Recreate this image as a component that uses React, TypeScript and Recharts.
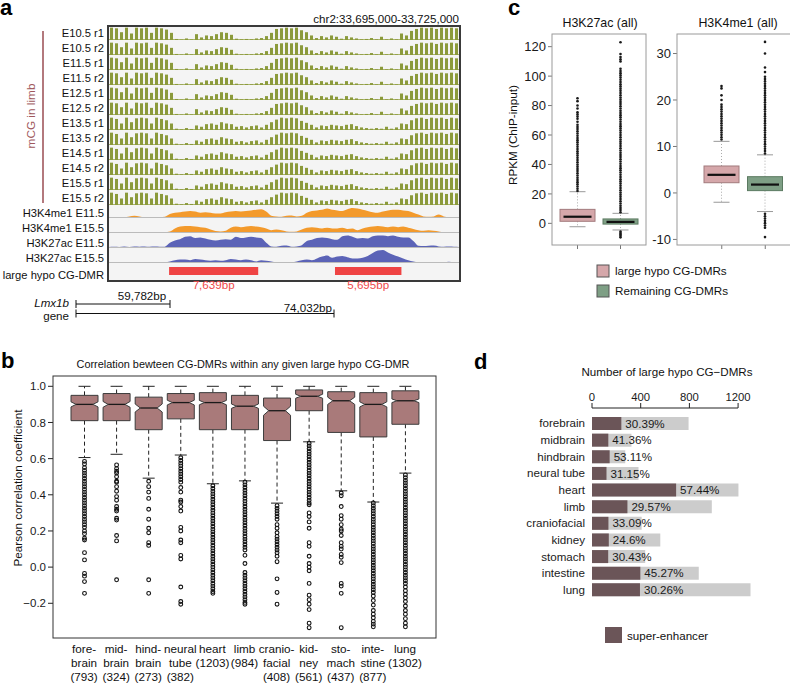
import React from 'react';
import { BarChart, Bar, AreaChart, Area, XAxis, YAxis, LabelList } from 'recharts';

const FONT = '"Liberation Sans", Arial, Helvetica, sans-serif';

// ---------- panel a: genome browser tracks ----------
const mcgTracks = ['E10.5 r1', 'E10.5 r2', 'E11.5 r1', 'E11.5 r2', 'E12.5 r1', 'E12.5 r2',
  'E13.5 r1', 'E13.5 r2', 'E14.5 r1', 'E14.5 r2', 'E15.5 r1', 'E15.5 r2'];
// methylation level per ~430bp bin
const mcgEarly = [0.95, 0.9, 0.6, 0.95, 0.5, 0.95, 0.9, 0.95, 0.55, 0.95, 0.9, 0.8,
  0.55, 0.08, 0.03, 0.12, 0.04,
  0.45, 0.2, 0.35, 0.3, 0.45,
  0.6, 0.55, 0.4,
  0.1, 0.05, 0.08, 0.05, 0.12, 0.15,
  0.3, 0.55,
  0.85, 0.9, 0.95, 0.9, 0.95,
  0.75, 0.6, 0.35,
  0.15, 0.3, 0.2, 0.35,
  0.25, 0.1, 0.3, 0.2, 0.12, 0.05, 0.08, 0.15, 0.05, 0.25, 0.05, 0.12, 0.05,
  0.5, 0.35,
  0.7, 0.85, 0.95, 0.9, 0.95, 0.85, 0.95, 0.9, 0.95, 0.9];
const mcgLate = [0.95, 0.85, 0.5, 0.95, 0.6, 0.9, 0.95, 0.9, 0.5, 0.95, 0.85, 0.75,
  0.5, 0.1, 0.05, 0.15, 0.08,
  0.35, 0.25, 0.45, 0.5, 0.4,
  0.6, 0.5, 0.45,
  0.25, 0.3, 0.2, 0.3, 0.35, 0.2,
  0.4, 0.6,
  0.8, 0.95, 0.9, 0.95, 0.9,
  0.7, 0.55, 0.4,
  0.2, 0.35, 0.3, 0.4,
  0.35, 0.3, 0.4, 0.45, 0.3, 0.2, 0.15, 0.1, 0.15, 0.1, 0.25, 0.1, 0.2,
  0.5, 0.45,
  0.75, 0.9, 0.95, 0.85, 0.95, 0.9, 0.95, 0.85, 0.95, 0.9];

const chipTracks = ['H3K4me1 E11.5', 'H3K4me1 E15.5', 'H3K27ac E11.5', 'H3K27ac E15.5'];
const k4me1E11 = [0, 0, 0, 0, 0.05, 0.1, 0.05, 0, 0, 0, 0, 0.02,
  0.25, 0.35, 0.4, 0.45, 0.5, 0.45, 0.35, 0.4, 0.35, 0.3, 0.3, 0.4, 0.45, 0.5, 0.45, 0.5, 0.55, 0.6, 0.65, 0.45,
  0.1, 0.05, 0.02, 0.1, 0.12, 0.05, 0.1,
  0.35, 0.5, 0.55, 0.6, 0.7, 0.6, 0.55, 0.5, 0.65, 0.75, 0.7, 0.6, 0.5, 0.4, 0.35, 0.45, 0.55, 0.6, 0.6, 0.55, 0.5, 0.35, 0.2,
  0.05, 0.02, 0.05, 0.2, 0.05, 0, 0, 0];
const k4me1E15 = [0, 0, 0, 0, 0, 0, 0, 0, 0, 0, 0, 0, 0.05,
  0.3, 0.45, 0.5, 0.5, 0.45, 0.4, 0.35, 0.2,
  0.08, 0.05, 0.1,
  0.35, 0.45, 0.4, 0.45, 0.5, 0.45, 0.4, 0.3,
  0.15, 0.2, 0.15, 0.05, 0.02, 0.05, 0.2,
  0.35, 0.4, 0.35, 0.3, 0.35, 0.3, 0.3, 0.35, 0.25, 0.3, 0.15,
  0.3, 0.4, 0.45, 0.5, 0.45, 0.4, 0.45, 0.4, 0.45, 0.35, 0.25, 0.15,
  0.1, 0.15, 0.1, 0.05, 0, 0, 0, 0];
const k27acE11 = [0, 0.02, 0, 0.05, 0, 0.04, 0.03, 0.05, 0.02, 0.04, 0.02, 0.03,
  0.35, 0.55, 0.65, 0.85, 0.9, 0.75, 0.8, 0.7, 0.6, 0.55, 0.6, 0.65, 0.6, 0.85, 0.75, 0.8, 0.85, 0.8, 0.75, 0.35,
  0.05, 0.02, 0.1, 0.12, 0.02, 0.05, 0.15,
  0.5, 0.6, 0.75, 0.8, 0.75, 0.65, 0.6, 0.9, 0.95, 0.85, 0.7, 0.75, 0.7, 0.9, 0.95, 0.95, 0.9, 0.95, 0.85, 0.8, 0.8, 0.5, 0.1,
  0.08, 0.1, 0.12, 0.05, 0.03, 0.04, 0.02, 0];
const k27acE15 = [0, 0, 0, 0, 0, 0, 0, 0, 0, 0, 0, 0, 0.05,
  0.15, 0.2, 0.2, 0.15, 0.25, 0.2, 0.15, 0.1, 0.15, 0.1, 0.15, 0.25, 0.2, 0.15, 0.2, 0.15, 0.05,
  0.15, 0.1, 0.05, 0, 0, 0, 0, 0.05,
  0.15, 0.2, 0.15, 0.3, 0.45, 0.55, 0.35, 0.45, 0.5, 0.4, 0.3, 0.3, 0.35, 0.5, 0.75, 0.95, 1.0, 0.8, 0.6, 0.45, 0.3,
  0.15, 0.05, 0, 0, 0, 0, 0, 0, 0.03, 0, 0];
const chipValues = [k4me1E11, k4me1E15, k27acE11, k27acE15];
const chipColors = ['#f39a2c', '#f39a2c', '#5b63b7', '#5b63b7'];

const windowStart = 33695000;
const windowEnd = 33725000;
const dmrStarts = [33700150, 33714370];
const dmrEnds = [33707789, 33720065];
const dmrLabels = ['7,639bp', '5,695bp'];

// ---------- panel b: correlation boxplots ----------
const bCats = ['forebrain', 'midbrain', 'hindbrain', 'neural tube', 'heart', 'limb',
  'craniofacial', 'kidney', 'stomach', 'intestine', 'lung'];
const bTickLines = [['fore-', 'brain', '(793)'], ['mid-', 'brain', '(324)'], ['hind-', 'brain', '(273)'],
  ['neural', 'tube', '(382)'], ['heart', '(1203)'], ['limb', '(984)'], ['cranio-', 'facial', '(408)'],
  ['kid-', 'ney', '(561)'], ['sto-', 'mach', '(437)'], ['inte-', 'stine', '(877)'], ['lung', '(1302)']];
const bQ1 = [0.81, 0.81, 0.76, 0.82, 0.76, 0.76, 0.70, 0.865, 0.745, 0.72, 0.79];
const bMed = [0.90, 0.90, 0.88, 0.91, 0.91, 0.89, 0.865, 0.945, 0.92, 0.90, 0.92];
const bQ3 = [0.95, 0.96, 0.94, 0.96, 0.965, 0.95, 0.935, 0.98, 0.97, 0.965, 0.975];
const bNotch = [0.014, 0.016, 0.022, 0.013, 0.012, 0.012, 0.025, 0.011, 0.02, 0.014, 0.01];
const bWlo = [0.606, 0.624, 0.492, 0.62, 0.461, 0.477, 0.354, 0.693, 0.422, 0.36, 0.52];
const bWhi = [1.0, 1.0, 1.0, 1.0, 1.0, 1.0, 1.0, 1.0, 1.0, 1.0, 1.0];
const bOut = [
  [0.585, 0.57, 0.55, 0.535, 0.52, 0.505, 0.49, 0.475, 0.46, 0.445, 0.43, 0.415, 0.4, 0.385, 0.37, 0.355, 0.34,
    0.325, 0.31, 0.295, 0.28, 0.265, 0.25, 0.235, 0.22, 0.2, 0.185, 0.16, 0.15, 0.08, 0.04, -0.035, -0.05, -0.08, -0.145],
  [0.565, 0.545, 0.53, 0.52, 0.5, 0.475, 0.47, 0.445, 0.42, 0.39, 0.37, 0.335, 0.32, 0.31, 0.27, 0.26, 0.175, 0.145, -0.07],
  [0.475, 0.445, 0.415, 0.38, 0.32, 0.265, 0.215, 0.19, 0.135, 0.12, -0.07, -0.145],
  [0.605, 0.59, 0.575, 0.56, 0.545, 0.53, 0.515, 0.5, 0.485, 0.47, 0.44, 0.415, 0.37, 0.36, 0.335, 0.31, 0.22, 0.2,
    0.15, 0.135, 0.065, 0.045, -0.11, -0.19, -0.205],
  [0.45, 0.435, 0.42, 0.405, 0.39, 0.375, 0.36, 0.345, 0.33, 0.315, 0.3, 0.285, 0.27, 0.255, 0.24, 0.225, 0.21,
    0.195, 0.18, 0.165, 0.15, 0.135, 0.12, 0.105, 0.09, 0.075, 0.06, 0.045, 0.03, 0.015, 0, -0.015, -0.03, -0.045,
    -0.06, -0.075, -0.09, -0.105, -0.12, -0.135, -0.145],
  [0.47, 0.455, 0.44, 0.425, 0.41, 0.395, 0.38, 0.365, 0.35, 0.335, 0.32, 0.305, 0.29, 0.275, 0.26, 0.245, 0.23,
    0.215, 0.2, 0.185, 0.17, 0.155, 0.14, 0.125, 0.11, 0.095, 0.065, 0.02, -0.03, -0.045, -0.06, -0.075, -0.09,
    -0.105, -0.12, -0.135, -0.15, -0.165, -0.18, -0.195, -0.205],
  [0.34, 0.325, 0.31, 0.295, 0.28, 0.265, 0.235, 0.215, 0.19, 0.17, 0.155, 0.14, 0.125, 0.11, 0.095, 0.08, 0.06,
    0.03, -0.065, -0.14, -0.205],
  [0.685, 0.67, 0.655, 0.64, 0.625, 0.61, 0.595, 0.58, 0.565, 0.55, 0.535, 0.52, 0.505, 0.49, 0.475, 0.46, 0.445,
    0.43, 0.415, 0.4, 0.385, 0.37, 0.355, 0.345, 0.3, 0.28, 0.25, 0.215, 0.135, 0.115, 0.06, 0.02, 0.0, -0.02,
    -0.09, -0.155, -0.18, -0.205, -0.235, -0.31, -0.335],
  [0.41, 0.395, 0.335, 0.285, 0.265, 0.235, 0.21, 0.2, 0.175, 0.135, 0.115, 0.1, 0.07, 0.055, 0.025, -0.09, -0.105,
    -0.145, -0.335],
  [0.355, 0.34, 0.325, 0.31, 0.295, 0.28, 0.265, 0.25, 0.235, 0.22, 0.205, 0.19, 0.175, 0.16, 0.145, 0.13, 0.115,
    0.1, 0.085, 0.07, 0.055, 0.04, 0.025, 0.01, -0.005, -0.02, -0.035, -0.05, -0.065, -0.08, -0.095, -0.11, -0.125,
    -0.14, -0.16, -0.185, -0.21, -0.24, -0.26, -0.28, -0.3, -0.315, -0.33],
  [0.51, 0.495, 0.48, 0.465, 0.45, 0.435, 0.42, 0.405, 0.39, 0.375, 0.36, 0.345, 0.33, 0.315, 0.3, 0.285, 0.27,
    0.255, 0.24, 0.225, 0.21, 0.195, 0.18, 0.165, 0.15, 0.135, 0.12, 0.105, 0.09, 0.075, 0.06, 0.045, 0.03, 0.015,
    0, -0.015, -0.03, -0.045, -0.06, -0.075, -0.09, -0.11, -0.13, -0.15, -0.17, -0.19, -0.215, -0.24, -0.26, -0.285,
    -0.31, -0.33],
];
const bTicks = [-0.2, 0, 0.2, 0.4, 0.6, 0.8, 1.0];

// ---------- panel c: RPKM boxplots ----------
const cGroups = ['large hypo CG-DMRs', 'Remaining CG-DMRs'];
const cFill = ['#d5a7aa', '#7e9f85'];
const cStroke = ['#a27a7d', '#5b7a61'];
const k27Q1 = [1.4, -0.5];
const k27Med = [4.5, 1.0];
const k27Q3 = [9.5, 3.0];
const k27Wlo = [-2.3, -4.5];
const k27Whi = [21.5, 6.8];
const k27Out = [
  [22, 23.5, 25, 26.5, 28, 29.5, 31, 32.5, 34, 35.5, 37, 38.5, 40, 41.5, 43, 44.5, 46, 47.5, 49, 50.5, 52, 53.5,
    55, 56.5, 58, 59.5, 61, 62.5, 64, 65.5, 67, 69, 71, 72.5, 74, 75.5, 78, 80, 83, 85],
  [7.5, 9, 10.5, 12, 13.5, 15, 16.5, 18, 19.5, 21, 22.5, 24, 25.5, 27, 28.5, 30, 31.5, 33, 34.5, 36, 37.5, 39, 40.5,
    42, 43.5, 45, 46.5, 48, 49.5, 51, 52.5, 54, 55.5, 57, 58.5, 60, 61.5, 63, 64.5, 66, 67.5, 69, 70.5, 72, 73.5, 75,
    76.5, 78, 79.5, 81, 82.5, 84, 85.5, 87, 88.5, 90, 91.5, 93, 94.5, 96, 97.5, 99, 100.5, 102, 103.5, 105, 110,
    111.5, 113, 115, 123, -5.5, -6.5, -7.5, -8.5, -9.5],
];
const k4Q1 = [2.2, 0.5];
const k4Med = [3.9, 1.8];
const k4Q3 = [5.8, 3.5];
const k4Wlo = [-2.0, -4.0];
const k4Whi = [11.1, 8.2];
const k4Out = [
  [11.5, 12, 12.5, 13, 13.5, 14, 14.5, 15, 15.5, 16, 16.5, 17, 17.5, 18, 18.5, 19, 20, 21, 22.5, 23],
  [8.5, 9, 9.5, 10, 10.5, 11, 11.5, 12, 12.5, 13, 13.5, 14, 14.5, 15, 15.5, 16, 16.5, 17, 17.5, 18, 18.5, 19, 19.5,
    20, 20.5, 21, 21.5, 22, 22.5, 23, 23.5, 24, 24.5, 25, 26, 27, 30, 32.5,
    -4.5, -5, -5.5, -6, -6.5, -7, -7.5, -9.5],
];
const k27Ticks = [0, 20, 40, 60, 80, 100, 120];
const k4Ticks = [-10, 0, 10, 20, 30];

// ---------- panel d: counts and super-enhancer share ----------
const dCats = ['forebrain', 'midbrain', 'hindbrain', 'neural tube', 'heart', 'limb',
  'craniofacial', 'kidney', 'stomach', 'intestine', 'lung'];
const dTotals = [793, 324, 273, 382, 1203, 984, 408, 561, 437, 877, 1302];
const dPctLabels = ['30.39%', '41.36%', '53.11%', '31.15%', '57.44%', '29.57%', '33.09%', '24.6%', '30.43%', '45.27%', '30.26%'];
const dTicks = [0, 400, 800, 1200];

const spanOf = (lo: number[], hi: number[], out: number[][], i: number) => [
  Math.min(lo[i], ...out[i]),
  Math.max(hi[i], ...out[i]),
];

const bData = bCats.map((name, i) => {
  const [lo, hi] = spanOf(bWlo, bWhi, bOut, i);
  return { name, q1: bQ1[i], med: bMed[i], q3: bQ3[i], notch: bNotch[i], wlo: bWlo[i], whi: bWhi[i], out: bOut[i], lo, hi };
});
const makeCData = (q1: number[], med: number[], q3: number[], wlo: number[], whi: number[], out: number[][]) =>
  cGroups.map((name, i) => {
    const [lo, hi] = spanOf(wlo, whi, out, i);
    return { name, q1: q1[i], med: med[i], q3: q3[i], wlo: wlo[i], whi: whi[i], out: out[i], lo, hi };
  });
const k27Data = makeCData(k27Q1, k27Med, k27Q3, k27Wlo, k27Whi, k27Out);
const k4Data = makeCData(k4Q1, k4Med, k4Q3, k4Wlo, k4Whi, k4Out);
const dData = dCats.map((name, i) => ({
  name,
  total: dTotals[i],
  se: (dTotals[i] * parseFloat(dPctLabels[i])) / 100,
  pct: dPctLabels[i],
}));
const dmrData = [{ row: 'dmr', a: [dmrStarts[0], dmrEnds[0]], b: [dmrStarts[1], dmrEnds[1]], la: dmrLabels[0], lb: dmrLabels[1] }];

// maps a value to pixels inside the [lo, hi] range bar that recharts laid out
const pixelMapper = (props: any) => {
  const d = props.payload ?? props;
  const top = Math.min(props.y, props.y + props.height);
  const bot = Math.max(props.y, props.y + props.height);
  return { d, py: (v: number) => top + ((d.hi - v) / (d.hi - d.lo)) * (bot - top) };
};

const NotchBox = (props: any) => {
  const { d, py } = pixelMapper(props);
  const cx = props.x + props.width / 2;
  const hw = props.width / 2;
  const nw = hw * 0.62;
  const pts = [
    [cx - hw, py(d.q3)], [cx + hw, py(d.q3)], [cx + hw, py(d.med + d.notch)], [cx + nw, py(d.med)],
    [cx + hw, py(d.med - d.notch)], [cx + hw, py(d.q1)], [cx - hw, py(d.q1)], [cx - hw, py(d.med - d.notch)],
    [cx - nw, py(d.med)], [cx - hw, py(d.med + d.notch)],
  ].map((p) => p.join(',')).join(' ');
  return (
    <g>
      <line x1={cx} x2={cx} y1={py(d.q3)} y2={py(d.whi)} stroke="#222" strokeDasharray="4 3" />
      <line x1={cx} x2={cx} y1={py(d.q1)} y2={py(d.wlo)} stroke="#222" strokeDasharray="4 3" />
      <line x1={cx - 6} x2={cx + 6} y1={py(d.whi)} y2={py(d.whi)} stroke="#222" />
      <line x1={cx - 6} x2={cx + 6} y1={py(d.wlo)} y2={py(d.wlo)} stroke="#222" />
      <polygon points={pts} fill="#a97a7a" stroke="#3c3c3c" strokeWidth={1} />
      <line x1={cx - nw} x2={cx + nw} y1={py(d.med)} y2={py(d.med)} stroke="#1a1a1a" strokeWidth={1.3} />
      {d.out.map((v: number, k: number) => (
        <circle key={k} cx={cx} cy={py(v)} r={1.9} fill="none" stroke="#111" strokeWidth={1.1} />
      ))}
    </g>
  );
};

const PlainBox = (props: any) => {
  const { d, py } = pixelMapper(props);
  const i = props.index ?? 0;
  const cx = props.x + props.width / 2;
  const hw = props.width / 2;
  return (
    <g>
      <line x1={cx} x2={cx} y1={py(d.q3)} y2={py(d.whi)} stroke="#aaa" strokeDasharray="1 2" />
      <line x1={cx} x2={cx} y1={py(d.q1)} y2={py(d.wlo)} stroke="#aaa" strokeDasharray="1 2" />
      <line x1={cx - 8} x2={cx + 8} y1={py(d.whi)} y2={py(d.whi)} stroke="#999" />
      <line x1={cx - 8} x2={cx + 8} y1={py(d.wlo)} y2={py(d.wlo)} stroke="#999" />
      <rect x={cx - hw} y={py(d.q3)} width={hw * 2} height={py(d.q1) - py(d.q3)}
        fill={cFill[i]} stroke={cStroke[i]} strokeWidth={1} />
      <line x1={cx - hw * 0.8} x2={cx + hw * 0.8} y1={py(d.med)} y2={py(d.med)} stroke="#111" strokeWidth={2.2} />
      {d.out.map((v: number, k: number) => (
        <circle key={k} cx={cx} cy={py(v)} r={1.3} fill="#1a1a1a" />
      ))}
    </g>
  );
};

const BTick = (props: any) => {
  const { x, y, payload } = props;
  const lines = bTickLines[payload.index] ?? [];
  return (
    <g>
      {lines.map((s, k) => (
        <text key={k} x={x} y={y + 15 + k * 14} textAnchor="middle" fontSize={11.7} fill="#111" fontFamily={FONT}>{s}</text>
      ))}
    </g>
  );
};

const fmtB = (v: number) => (v < 0 ? '\u2212' + Math.abs(v).toFixed(1) : v.toFixed(1));
const axisText = { fontSize: 11.6, fill: '#1a1a1a', fontFamily: FONT };
const noMargin = { top: 0, right: 0, bottom: 0, left: 0 };

const McgTrack = ({ values, top }: { values: number[]; top: number }) => (
  <div style={{ position: 'absolute', left: 109, top, width: 350, height: 13 }}>
    <BarChart width={350} height={13} data={values.map((v, i) => ({ bin: i, v }))} margin={noMargin} barCategoryGap={1}>
      <XAxis dataKey="bin" hide />
      <YAxis hide domain={[0, 1]} />
      <Bar dataKey="v" fill="#8b9a3b" isAnimationActive={false} />
    </BarChart>
  </div>
);

const ChipTrack = ({ values, top, color }: { values: number[]; top: number; color: string }) => (
  <div style={{ position: 'absolute', left: 109, top, width: 350, height: 12 }}>
    <AreaChart width={350} height={12} data={values.map((v, i) => ({ bin: i, v }))} margin={noMargin}>
      <XAxis dataKey="bin" hide />
      <YAxis hide domain={[0, 1]} />
      <Area type="monotone" dataKey="v" stroke="none" fill={color} fillOpacity={1} isAnimationActive={false} />
    </AreaChart>
  </div>
);

export default function App() {
  return (
    <div style={{ position: 'absolute', left: 0, top: 0, width: 790, height: 683, overflow: 'hidden', background: '#fff', fontFamily: FONT }}>
      {/* panel a frame and track rows */}
      <div style={{ position: 'absolute', left: 107, top: 25, width: 350, height: 253, border: '2px solid #3a3a3a', background: '#f4f4f4' }} />
      {mcgTracks.map((t, i) => (
        <div key={t} style={{ position: 'absolute', left: 109, top: 39 + 15 * i, width: 350, height: 1, background: '#a9b46a' }} />
      ))}
      {chipTracks.map((t, j) => (
        <div key={t} style={{ position: 'absolute', left: 109, top: 217 + 15 * j, width: 350, height: 1, background: '#bbbbbb' }} />
      ))}
      {mcgTracks.map((t, i) => (
        <McgTrack key={t} values={i < 6 ? mcgEarly : mcgLate} top={27 + 15 * i} />
      ))}
      {chipTracks.map((t, j) => (
        <ChipTrack key={t} values={chipValues[j]} top={205 + 15 * j} color={chipColors[j]} />
      ))}
      <div style={{ position: 'absolute', left: 109, top: 264, width: 350, height: 32 }}>
        <BarChart layout="vertical" width={350} height={32} data={dmrData} margin={{ top: 0, right: 0, bottom: 18, left: 0 }} barGap={-8}>
          <XAxis type="number" hide domain={[windowStart, windowEnd]} />
          <YAxis type="category" dataKey="row" hide />
          <Bar dataKey="a" barSize={8} fill="#ef4444" isAnimationActive={false}>
            <LabelList dataKey="la" position="bottom" offset={6} fill="#ef4a4a" fontSize={11.6} fontFamily={FONT} />
          </Bar>
          <Bar dataKey="b" barSize={8} fill="#ef4444" isAnimationActive={false}>
            <LabelList dataKey="lb" position="bottom" offset={6} fill="#ef4a4a" fontSize={11.6} fontFamily={FONT} />
          </Bar>
        </BarChart>
      </div>

      {/* panel b */}
      <div style={{ position: 'absolute', left: 0, top: 360 }}>
        <BarChart width={440} height={328} data={bData} margin={{ top: 16, right: 4, bottom: 0, left: 0 }}>
          <XAxis dataKey="name" height={50} tick={<BTick />} tickLine={false} axisLine={false} tickSize={0} tickMargin={0}
            padding={{ left: 15, right: 15 }} interval={0} />
          <YAxis width={53} domain={[-0.392, 1.057]} ticks={bTicks} tickFormatter={fmtB} tick={{ ...axisText, fontSize: 11.5 }}
            tickSize={5} tickMargin={2} axisLine={false} tickLine={{ stroke: '#222' }} allowDataOverflow />
          <Bar dataKey={(d: any) => [d.lo, d.hi]} barSize={27} shape={<NotchBox />} isAnimationActive={false} />
        </BarChart>
      </div>

      {/* panel c */}
      <div style={{ position: 'absolute', left: 508, top: 30 }}>
        <BarChart width={138} height={225} data={k27Data} margin={{ top: 4, right: 0, bottom: 0, left: 0 }}>
          <XAxis dataKey="name" height={10} tickSize={4} tickFormatter={() => ''} axisLine={false}
            tickLine={{ stroke: '#777' }} padding={{ left: 4, right: 4 }} />
          <YAxis width={44} domain={[-14.7, 128.6]} ticks={k27Ticks} tick={{ ...axisText, fontSize: 13 }}
            tickSize={4} tickMargin={2} axisLine={false} tickLine={{ stroke: '#777' }} allowDataOverflow />
          <Bar dataKey={(d: any) => [d.lo, d.hi]} barSize={35} shape={<PlainBox />} isAnimationActive={false} />
        </BarChart>
      </div>
      <div style={{ position: 'absolute', left: 640, top: 30 }}>
        <BarChart width={170} height={225} data={k4Data} margin={{ top: 4, right: 0, bottom: 0, left: 0 }}>
          <XAxis dataKey="name" height={10} tickSize={4} tickFormatter={() => ''} axisLine={false}
            tickLine={{ stroke: '#777' }} padding={{ left: 23, right: 23 }} />
          <YAxis width={37} domain={[-11.2, 34.2]} ticks={k4Ticks} tick={{ ...axisText, fontSize: 13 }}
            tickSize={4} tickMargin={2} axisLine={false} tickLine={{ stroke: '#777' }} allowDataOverflow />
          <Bar dataKey={(d: any) => [d.lo, d.hi]} barSize={35} shape={<PlainBox />} isAnimationActive={false} />
        </BarChart>
      </div>

      {/* panel d */}
      <div style={{ position: 'absolute', left: 500, top: 382 }}>
        <BarChart layout="vertical" width={270} height={216} data={dData} margin={{ top: 0, right: 10, bottom: 0, left: 0 }} barGap={-13}>
          <XAxis type="number" orientation="top" domain={[0, 1380]} ticks={dTicks} height={26} tick={{ ...axisText, fontSize: 11.3 }}
            tickSize={5} tickMargin={2} axisLine={false} tickLine={{ stroke: '#222' }} />
          <YAxis type="category" dataKey="name" width={92} tick={axisText} tickLine={false} axisLine={false}
            tickSize={0} tickMargin={7} padding={{ top: 7, bottom: 0 }} interval={0} />
          <Bar dataKey="total" barSize={13} fill="#cccccc" isAnimationActive={false} />
          <Bar dataKey="se" barSize={13} fill="#6b5558" isAnimationActive={false}>
            <LabelList dataKey="pct" position="right" offset={4} fill="#1a1a1a" fontSize={11.6} fontFamily={FONT} />
          </Bar>
        </BarChart>
      </div>

      {/* frames, annotations and text */}
      <svg width={790} height={683} style={{ position: 'absolute', left: 0, top: 0, pointerEvents: 'none' }} fontFamily={FONT}>
        <text x={0} y={15} fontSize={22} fontWeight="bold" fill="#000">a</text>
        <text x={459} y={23} fontSize={11.6} textAnchor="end" fill="#111">chr2:33,695,000-33,725,000</text>
        {mcgTracks.map((t, i) => (
          <text key={t} x={104} y={37 + 15 * i} fontSize={11.2} textAnchor="end" fill="#111">{t}</text>
        ))}
        {chipTracks.map((t, j) => (
          <text key={t} x={104} y={217 + 15 * j} fontSize={11.2} textAnchor="end" fill="#111">{t}</text>
        ))}
        <text x={104} y={279} fontSize={11.2} textAnchor="end" fill="#111">large hypo CG-DMR</text>
        <line x1={43} x2={43} y1={31} y2={203} stroke="#9a4c52" strokeWidth={1.5} />
        <text transform="translate(35,116) rotate(-90)" fontSize={11.8} textAnchor="middle" fill="#a0585c">mCG in limb</text>
        <text x={69} y={307} fontSize={11.6} textAnchor="end" fontStyle="italic" fill="#111">Lmx1b</text>
        <text x={69} y={320} fontSize={11.6} textAnchor="end" fill="#111">gene</text>
        <line x1={76} x2={170} y1={304} y2={304} stroke="#111" />
        <line x1={76} x2={76} y1={300} y2={308} stroke="#111" />
        <line x1={170} x2={170} y1={300} y2={308} stroke="#111" />
        <text x={142} y={300} fontSize={11.6} textAnchor="middle" fill="#111">59,782bp</text>
        <line x1={76} x2={334} y1={313.5} y2={313.5} stroke="#111" />
        <line x1={76} x2={76} y1={309.5} y2={317.5} stroke="#111" />
        <line x1={334} x2={334} y1={309.5} y2={317.5} stroke="#111" />
        <text x={332} y={312} fontSize={11.6} textAnchor="end" fill="#111">74,032bp</text>

        <text x={1} y={368} fontSize={22} fontWeight="bold" fill="#000">b</text>
        <text x={243} y={368} fontSize={10.9} textAnchor="middle" fill="#111">Correlation bewteen CG-DMRs within any given large hypo CG-DMR</text>
        <rect x={53} y={376} width={383} height={262} fill="none" stroke="#333" strokeWidth={1} />
        <text transform="translate(22,488) rotate(-90)" fontSize={11.7} textAnchor="middle" fill="#111">Pearson correlation coefficient</text>

        <text x={508} y={15} fontSize={22} fontWeight="bold" fill="#000">c</text>
        <text x={600} y={27} fontSize={12.4} textAnchor="middle" fill="#111">H3K27ac (all)</text>
        <text x={738} y={27} fontSize={12.4} textAnchor="middle" fill="#111">H3K4me1 (all)</text>
        <rect x={552} y={34} width={94} height={211} fill="none" stroke="#9a9a9a" strokeWidth={1} />
        <rect x={677} y={34} width={133} height={211} fill="none" stroke="#9a9a9a" strokeWidth={1} />
        <text transform="translate(517,135) rotate(-90)" fontSize={11.7} textAnchor="middle" fill="#111">RPKM (ChIP-input)</text>
        {cGroups.map((g, i) => (
          <g key={g}>
            <rect x={597} y={265 + 20 * i} width={12} height={12} fill={cFill[i]} stroke="#555" strokeWidth={1} />
            <text x={615} y={275 + 20 * i} fontSize={11.7} fill="#111">{g}</text>
          </g>
        ))}

        <text x={474} y={369} fontSize={22} fontWeight="bold" fill="#000">d</text>
        <text x={667} y={376} fontSize={11.6} textAnchor="middle" fill="#111">Number of large hypo CG−DMRs</text>
        <line x1={592} x2={738} y1={408} y2={408} stroke="#222" strokeWidth={1} />
        <rect x={605} y={627} width={17} height={16} fill="#6b5558" />
        <text x={627} y={640} fontSize={11.6} fill="#111">super-enhancer</text>
      </svg>
    </div>
  );
}
